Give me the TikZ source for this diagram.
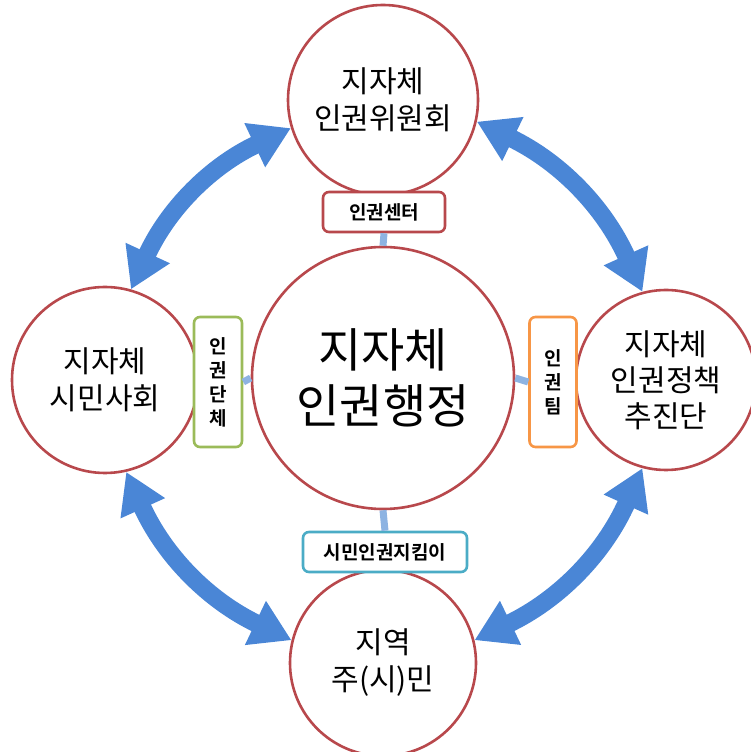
\documentclass[tikz,border=0pt]{standalone}
\usepackage{fontspec}
\setmainfont{Noto Sans CJK KR}
\newfontfamily\krbold{Noto Sans CJK KR Bold}
\usetikzlibrary{arrows.meta}
\definecolor{circred}{RGB}{184,72,76}
\definecolor{arrblue}{RGB}{74,134,214}
\definecolor{linkblue}{RGB}{141,179,226}
\definecolor{boxgreen}{RGB}{155,187,89}
\definecolor{boxorange}{RGB}{247,150,70}
\definecolor{boxteal}{RGB}{75,172,198}
\tikzset{
  bigcirc/.style={circle,draw=circred,line width=2.6pt,fill=white,inner sep=0pt,align=center,
    font=\fontsize{30}{37}\selectfont},
  lblbox/.style={rounded corners=6pt,line width=2.6pt,fill=white,inner sep=0pt,align=center,
    font=\krbold\fontsize{19}{24}\selectfont},
  link/.style={draw=linkblue,line width=7pt},
  dblarrow/.style={draw=arrblue,line width=18pt,
    {Triangle[width=46pt,length=40pt]}-{Triangle[width=46pt,length=40pt]}}
}
\begin{document}
\begin{tikzpicture}[x=1pt,y=1pt]
\useasboundingbox (0,0) rectangle (751,752);
% circles
\node[bigcirc,minimum size=262pt,font=\fontsize{47}{56}\selectfont] (C) at (383,374) {지자체\\인권행정};
\node[bigcirc,minimum size=190pt] (T) at (383,652) {지자체\\인권위원회};
\node[bigcirc,minimum size=186pt] (L) at (105,372) {지자체\\시민사회};
\node[bigcirc,minimum size=180pt,font=\fontsize{30}{36}\selectfont] (R) at (666,372) {지자체\\인권정책\\추진단};
\node[bigcirc,minimum size=186pt] (B) at (383,89) {지역\\주(시)민};
% arrows
\draw[dblarrow] (L.74) to[bend left=20] (T.197);
\draw[dblarrow] (T.347) to[bend left=20] (R.105);
\draw[dblarrow] (R.255) to[bend left=20] (B.14);
\draw[dblarrow] (B.166) to[bend left=20] (L.283);
% label boxes
\node[lblbox,draw=circred,minimum width=122pt,minimum height=40pt] (bT) at (384,540) {인권센터};
\node[lblbox,draw=boxgreen,minimum width=48pt,minimum height=130pt] (bL) at (218,370) {인\\권\\단\\체};
\node[lblbox,draw=boxorange,minimum width=47pt,minimum height=130pt] (bR) at (553,370) {인\\권\\팀};
\node[lblbox,draw=boxteal,minimum width=164pt,minimum height=40pt] (bB) at (385,200) {시민인권지킴이};
% links
\draw[link] (bT.south) -- (C.north);
\draw[link] (bL.east) -- (C.west);
\draw[link] (C.east) -- (bR.west);
\draw[link] (C.south) -- (bB.north);
\end{tikzpicture}
\end{document}
